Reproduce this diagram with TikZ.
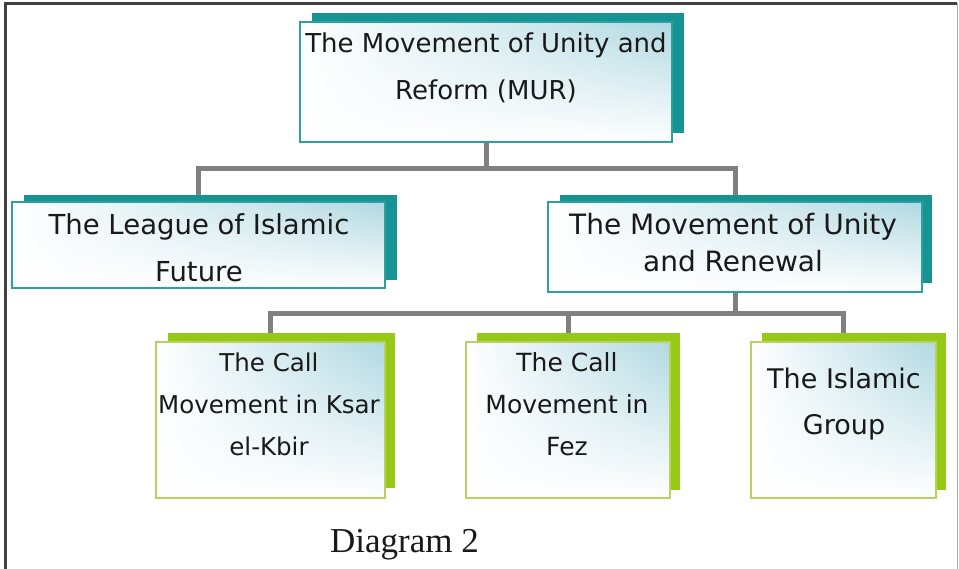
\documentclass[tikz,border=0pt]{standalone}
\usepackage{fontspec}
\usetikzlibrary{fadings}
\newfontfamily\boxfont{DejaVu Sans}
\newfontfamily\capfont{Liberation Serif}
\definecolor{tealsh}{RGB}{22,148,148}
\definecolor{tealbd}{RGB}{45,160,160}
\definecolor{greensh}{RGB}{150,200,22}
\definecolor{greenbd}{RGB}{185,210,95}
\definecolor{lightblue}{RGB}{176,217,226}
\definecolor{conngray}{RGB}{128,128,128}
\definecolor{txtc}{RGB}{25,25,25}
\definecolor{framedark}{RGB}{65,65,65}
\definecolor{framelight}{RGB}{175,175,175}
\pgfdeclarelayer{back}
\pgfsetlayers{back,main}
\tikzset{
  frontbox/.style={rectangle, inner sep=0pt, left color=white, right color=lightblue,
    postaction={fill=white, path fading=north},
    postaction={draw=#1, line width=1.2pt}},
  tealshadow/.style={fill=tealsh},
  greenshadow/.style={fill=greensh},
  conn/.style={draw=conngray, line width=5pt},
  txt/.style={align=center, inner sep=0pt, text=txtc, anchor=base},
}
\begin{document}
\begin{tikzpicture}[x=1pt,y=-1pt]
\useasboundingbox (0,0) rectangle (959,569);
% outer frame
\draw[draw=framedark, line width=3pt] (5,569) -- (5,3.5) -- (957,3.5);
\draw[draw=framelight, line width=1.2pt] (957.5,3) -- (957.5,569);

% shadows
\fill[tealshadow] (312,13) rectangle (684,133);
\fill[tealshadow] (24,195) rectangle (397,280);
\fill[tealshadow] (560,195) rectangle (932,283);
\fill[greenshadow] (168,333) rectangle (395,488);
\fill[greenshadow] (477,333) rectangle (680,490);
\fill[greenshadow] (762,333) rectangle (946,490);

% boxes
\node[frontbox=tealbd, minimum width=372pt, minimum height=120pt] (mur) at (486,82) {};
\node[frontbox=tealbd, minimum width=373pt, minimum height=86pt] (league) at (198.5,245) {};
\node[frontbox=tealbd, minimum width=374pt, minimum height=90pt] (renewal) at (735,247) {};
\node[frontbox=greenbd, minimum width=229pt, minimum height=156pt] (ksar) at (270.5,420) {};
\node[frontbox=greenbd, minimum width=204pt, minimum height=156pt] (fez) at (568,420) {};
\node[frontbox=greenbd, minimum width=185pt, minimum height=156pt] (group) at (843.5,420) {};

% texts (anchor base = baseline of last line)
\node[txt, font=\boxfont\fontsize{26}{47}\selectfont] (murt) at (486,100) {The Movement of Unity and\\Reform (MUR)};
\node[txt, font=\boxfont\fontsize{27.5}{47}\selectfont] (leaguet) at (199,282) {The League of Islamic\\Future};
\node[txt, font=\boxfont\fontsize{28}{37}\selectfont] (renewalt) at (733,272) {The Movement of Unity\\and Renewal};
\node[txt, font=\boxfont\fontsize{24.5}{42}\selectfont] (ksart) at (269,455) {The Call\\Movement in Ksar\\el-Kbir};
\node[txt, font=\boxfont\fontsize{25}{42}\selectfont] (fezt) at (567,455) {The Call\\Movement in\\Fez};
\node[txt, font=\boxfont\fontsize{27}{47}\selectfont] (groupt) at (844,435) {The Islamic\\Group};

% caption
\node[anchor=base west, inner sep=0pt, font=\capfont\fontsize{35}{40}\selectfont, text=txtc] (cap) at (330,552) {Diagram 2};

% connectors
\begin{pgfonlayer}{back}
\draw[conn] (mur.south) -- ++(0,26) -| (league.north);
\draw[conn] (mur.south) -- ++(0,26) -| (renewal.north);
\draw[conn] (renewal.south) -- ++(0,21) -| (ksar.north);
\draw[conn] (renewal.south) -- ++(0,21) -| (fez.north);
\draw[conn] (renewal.south) -- ++(0,21) -| (group.north);
\end{pgfonlayer}
\end{tikzpicture}
\end{document}
